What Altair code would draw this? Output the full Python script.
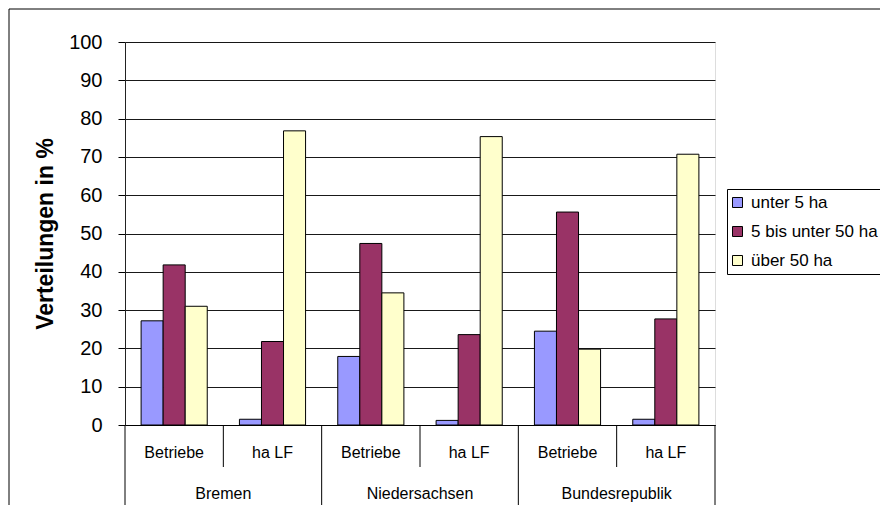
import altair as alt
import pandas as pd

regions = ["Bremen", "Niedersachsen", "Bundesrepublik"]
measures = ["Betriebe", "ha LF"]
series = ["unter 5 ha", "5 bis unter 50 ha", "über 50 ha"]
colors = ["#9999FF", "#993366", "#FFFFCC"]
unter5 = [27.2, 1.5, 17.9, 1.2, 24.5, 1.5]
mittel = [41.8, 21.8, 47.4, 23.6, 55.6, 27.7]
ueber50 = [31.0, 76.8, 34.5, 75.3, 19.8, 70.7]

keys = [f"{r}|{m}" for r in regions for m in measures]
rows = []
for i, k in enumerate(keys):
    for s, vals in zip(series, [unter5, mittel, ueber50]):
        rows.append({"key": k, "series": s, "value": vals[i]})
df = pd.DataFrame(rows)

W, H = 590, 383
xscale = alt.Scale(domain=keys, paddingInner=0, paddingOuter=0)

bars = alt.Chart(df).mark_bar(stroke="black", strokeWidth=1).encode(
    x=alt.X("key:N", scale=xscale, sort=keys, title=None,
            axis=alt.Axis(labelExpr="split(datum.label, '|')[1]", labelAngle=0,
                          ticks=False, labelPadding=19, labelFontSize=16,
                          labelColor="black", domainColor="black", grid=False)),
    xOffset=alt.XOffset("series:N", sort=series,
                        scale=alt.Scale(paddingOuter=0.73, paddingInner=0)),
    y=alt.Y("value:Q", scale=alt.Scale(domain=[0, 100]),
            axis=alt.Axis(values=list(range(0, 101, 10)), grid=True, gridColor="black",
                          gridOpacity=0.9, tickColor="black", tickSize=7,
                          labelFontSize=20, labelPadding=16, labelColor="black",
                          domainColor="#222222", title="Verteilungen in %",
                          titleFontSize=23, titleFontWeight="bold", titleColor="black",
                          titleX=-80, titleY=H / 2, titleAngle=270,
                          titleAlign="center", titleBaseline="middle")),
    color=alt.Color("series:N", scale=alt.Scale(domain=series, range=colors),
                    legend=alt.Legend(title=None, orient="none", legendX=602, legendY=147,
                                      symbolType="square", symbolSize=100,
                                      symbolStrokeColor="black", symbolStrokeWidth=1,
                                      labelFontSize=17, labelColor="black", padding=5,
                                      strokeColor="black", fillColor="white",
                                      rowPadding=11, labelOffset=5, symbolOffset=-3)),
)

short_df = pd.DataFrame({"key": [keys[1], keys[3], keys[5]]})
long_df = pd.DataFrame({"key": [keys[0], keys[2], keys[4]]})
end_df = pd.DataFrame({"key": [keys[5]]})
grp_df = pd.DataFrame({"key": [keys[1], keys[3], keys[5]], "region": regions})

short_rules = alt.Chart(short_df).mark_rule(color="black").encode(
    x=alt.X("key:N", scale=xscale, sort=keys, bandPosition=0),
    y=alt.value(H), y2=alt.value(H + 42))
long_rules = alt.Chart(long_df).mark_rule(color="black").encode(
    x=alt.X("key:N", scale=xscale, sort=keys, bandPosition=0),
    y=alt.value(H), y2=alt.value(H + 82))
end_rule = alt.Chart(end_df).mark_rule(color="black").encode(
    x=alt.X("key:N", scale=xscale, sort=keys, bandPosition=1),
    y=alt.value(H), y2=alt.value(H + 82))
grp_text = alt.Chart(grp_df).mark_text(fontSize=16, baseline="middle", color="black").encode(
    x=alt.X("key:N", scale=xscale, sort=keys, bandPosition=0),
    y=alt.value(H + 69), text="region:N")
border = alt.Chart(pd.DataFrame({"a": [0]})).mark_rect(
    fillOpacity=0, stroke="black", strokeWidth=1).encode(
    x=alt.value(-116), x2=alt.value(W + 300), y=alt.value(-33), y2=alt.value(H + 120))

chart = alt.layer(border, bars, short_rules, long_rules, end_rule, grp_text).properties(
    width=W, height=H,
    autosize=alt.AutoSizeParams(type="none"),
    padding={"left": 117, "top": 34, "right": 165, "bottom": 80},
    background="white",
).configure_view(fill="#C0C0C0", stroke="transparent").configure(
    font="Liberation Sans")

chart.save("out.html", embed_options={"renderer": "svg", "actions": False})
